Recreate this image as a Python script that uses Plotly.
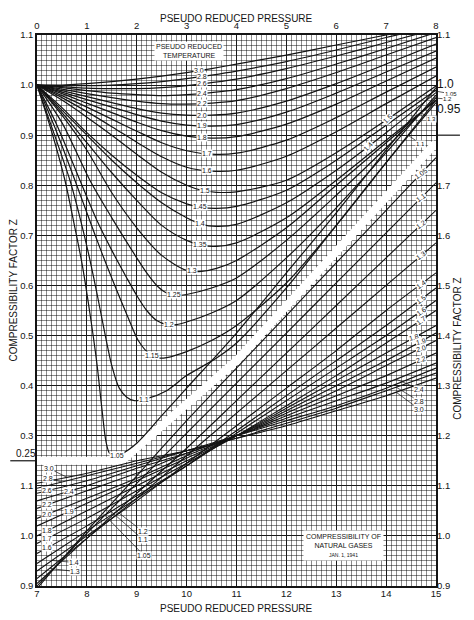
import numpy as np
import plotly.graph_objects as go

# ---- upper chart: pseudo reduced pressure 0-8, Z 0.25-1.1 ----
pr_hi = [0, 0.5, 1, 1.5, 2, 2.5, 3, 3.5, 4, 5, 6, 7, 8]
z_hi = {
    "3.0": [1.0, 1.0, 1.003, 1.007, 1.012, 1.018, 1.025, 1.033, 1.042, 1.06, 1.08, 1.10, 1.12],
    "2.8": [1.0, 0.999, 0.999, 1.0, 1.003, 1.007, 1.013, 1.02, 1.028, 1.047, 1.07, 1.095, 1.118],
    "2.6": [1.0, 0.997, 0.994, 0.993, 0.993, 0.995, 0.999, 1.005, 1.012, 1.033, 1.058, 1.085, 1.112],
    "2.4": [1.0, 0.995, 0.989, 0.984, 0.981, 0.979, 0.981, 0.985, 0.991, 1.013, 1.042, 1.073, 1.105],
    "2.2": [1.0, 0.992, 0.983, 0.975, 0.968, 0.963, 0.962, 0.964, 0.969, 0.993, 1.025, 1.06, 1.095],
    "2.0": [1.0, 0.989, 0.977, 0.965, 0.953, 0.944, 0.94, 0.94, 0.944, 0.968, 1.003, 1.042, 1.082],
    "1.9": [1.0, 0.986, 0.971, 0.956, 0.941, 0.928, 0.92, 0.918, 0.921, 0.946, 0.984, 1.026, 1.068],
    "1.8": [1.0, 0.983, 0.964, 0.945, 0.926, 0.909, 0.898, 0.894, 0.897, 0.922, 0.962, 1.008, 1.054],
    "1.7": [1.0, 0.979, 0.956, 0.932, 0.908, 0.885, 0.869, 0.862, 0.864, 0.89, 0.935, 0.986, 1.036],
    "1.6": [1.0, 0.975, 0.947, 0.917, 0.886, 0.857, 0.836, 0.828, 0.83, 0.858, 0.907, 0.963, 1.018],
}

pr_mid = [0, 0.5, 1, 1.5, 2, 2.5, 3, 3.3, 3.6, 4, 5, 6, 7, 8]
z_mid = {
    "1.5": [1.0, 0.97, 0.936, 0.9, 0.862, 0.826, 0.8, 0.79, 0.786, 0.787, 0.81, 0.865, 0.93, 0.998],
    "1.45": [1.0, 0.955, 0.905, 0.86, 0.82, 0.785, 0.763, 0.756, 0.754, 0.758, 0.79, 0.85, 0.92, 0.99],
    "1.4": [1.0, 0.95, 0.9, 0.85, 0.805, 0.765, 0.735, 0.722, 0.718, 0.722, 0.765, 0.83, 0.905, 0.985],
    "1.35": [1.0, 0.945, 0.885, 0.825, 0.77, 0.72, 0.69, 0.68, 0.678, 0.685, 0.735, 0.81, 0.89, 0.97],
    "1.3": [1.0, 0.94, 0.87, 0.785, 0.715, 0.66, 0.63, 0.628, 0.634, 0.65, 0.715, 0.80, 0.885, 0.97],
}

pr_125 = [0, 0.5, 1.06, 1.5, 2.0, 2.2, 2.4, 2.6, 2.8, 3.0, 3.5, 4, 5, 6, 7, 8]
z_125 = [1.0, 0.925, 0.81, 0.735, 0.655, 0.625, 0.60, 0.585, 0.58, 0.582, 0.595, 0.615, 0.69, 0.78, 0.875, 0.975]

pr_120 = [0, 0.4, 0.86, 1.2, 1.5, 1.8, 2.0, 2.2, 2.4, 2.6, 2.8, 3.0, 3.5, 4, 5, 6, 7, 8]
z_120 = [1.0, 0.92, 0.81, 0.73, 0.67, 0.615, 0.58, 0.55, 0.53, 0.522, 0.522, 0.527, 0.545, 0.57, 0.655, 0.755, 0.865, 0.98]

pr_115 = [0, 0.4, 0.76, 1.0, 1.3, 1.6, 1.83, 2.03, 2.27, 2.45, 2.6, 3.0, 3.5, 4, 5, 6, 7, 8]
z_115 = [1.0, 0.905, 0.81, 0.745, 0.665, 0.59, 0.535, 0.49, 0.462, 0.455, 0.456, 0.468, 0.49, 0.52, 0.605, 0.72, 0.845, 0.97]

pr_110 = [0, 0.3, 0.66, 0.85, 1.03, 1.2, 1.33, 1.5, 1.65, 1.8, 1.95, 2.2, 2.6, 3.0, 3.6, 4, 5, 6, 7, 8]
z_110 = [1.0, 0.915, 0.81, 0.74, 0.665, 0.585, 0.52, 0.44, 0.395, 0.377, 0.37, 0.374, 0.39, 0.42, 0.455, 0.485, 0.595, 0.72, 0.845, 0.965]

pr_105 = [0, 0.3, 0.56, 0.75, 0.9, 1.06, 1.2, 1.3, 1.38, 1.45, 1.55, 1.7, 2.0, 2.5, 3, 4, 5, 6, 7, 8]
z_105 = [1.0, 0.905, 0.81, 0.72, 0.645, 0.545, 0.445, 0.355, 0.29, 0.266, 0.26, 0.264, 0.285, 0.34, 0.395, 0.505, 0.625, 0.745, 0.87, 0.995]

upper_label_pr = {
    "3.0": 3.24, "2.8": 3.3, "2.6": 3.3, "2.4": 3.3, "2.2": 3.3, "2.0": 3.3,
    "1.9": 3.3, "1.8": 3.3, "1.7": 3.4, "1.6": 3.4, "1.5": 3.36, "1.45": 3.26,
    "1.4": 3.26, "1.35": 3.26, "1.3": 3.1, "1.25": 2.74, "1.2": 2.64,
    "1.15": 2.3, "1.1": 2.14, "1.05": 1.6,
}

# white strip separating the two charts (upper coordinates)
band_pr = [0, 1.7, 4.0, 8]
band_z = [0.25, 0.25, 0.45, 0.885]

# ---- lower chart: pseudo reduced pressure 7-15, Z 0.9-1.75 ----
pr_lo = [7, 8, 9, 10, 11, 12, 13, 14, 15]
z_lo = {
    "1.05": [0.895, 1.01, 1.12, 1.23, 1.335, 1.44, 1.545, 1.65, 1.755],
    "1.1": [0.90, 1.005, 1.105, 1.205, 1.305, 1.405, 1.505, 1.605, 1.705],
    "1.2": [0.905, 0.995, 1.085, 1.175, 1.27, 1.365, 1.46, 1.555, 1.65],
    "1.3": [0.915, 0.995, 1.075, 1.16, 1.245, 1.33, 1.415, 1.50, 1.585],
    "1.4": [0.93, 1.0, 1.07, 1.145, 1.22, 1.295, 1.37, 1.45, 1.525],
    "1.5": [0.945, 1.01, 1.075, 1.14, 1.21, 1.28, 1.35, 1.42, 1.495],
    "1.6": [0.965, 1.02, 1.08, 1.14, 1.205, 1.27, 1.335, 1.40, 1.47],
    "1.7": [0.985, 1.035, 1.09, 1.145, 1.20, 1.26, 1.32, 1.385, 1.45],
    "1.8": [1.00, 1.05, 1.10, 1.15, 1.20, 1.255, 1.31, 1.365, 1.42],
    "1.9": [1.02, 1.065, 1.11, 1.155, 1.20, 1.25, 1.30, 1.35, 1.405],
    "2.0": [1.035, 1.075, 1.115, 1.16, 1.20, 1.245, 1.29, 1.34, 1.39],
    "2.2": [1.055, 1.09, 1.125, 1.165, 1.20, 1.24, 1.28, 1.32, 1.365],
    "2.4": [1.07, 1.10, 1.135, 1.165, 1.20, 1.235, 1.27, 1.305, 1.345],
    "2.6": [1.085, 1.11, 1.14, 1.17, 1.20, 1.23, 1.26, 1.295, 1.335],
    "2.8": [1.095, 1.12, 1.145, 1.17, 1.195, 1.225, 1.255, 1.29, 1.325],
    "3.0": [1.105, 1.125, 1.15, 1.17, 1.195, 1.22, 1.25, 1.28, 1.315],
}
lower_right_labels = ["1.05", "1.1", "1.2", "1.3", "1.4", "1.5", "1.6", "1.7", "1.8", "1.9", "2.0", "2.2"]
lower_left_labels = ["2.6", "2.4", "2.2", "2.0", "1.9", "1.8", "1.7", "1.6"]

top_ticks = list(range(0, 9))
bottom_ticks = list(range(7, 16))
left_vals = [0, 0.1, 0.2, 0.3, 0.4, 0.5, 0.6, 0.7, 0.8, 0.9, 1.0, 1.1]
left_text = ["0.9", "1.0", "1.1", "0.3", "0.4", "0.5", "0.6", "0.7", "0.8", "0.9", "1.0", "1.1"]
right_vals = [0.9, 1.0, 1.1, 1.2, 1.3, 1.4, 1.5, 1.6, 1.7, 1.85, 1.9, 2.0]
right_text = ["0.9", "1.0", "1.1", "1.2", "1.3", "1.4", "1.5", "1.6", "1.7",
              "<span style='font-size:12px'>0.95</span>",
              "<span style='font-size:12px'>1.0</span>", "1.1"]

FONT = "Liberation Sans"
ink = "#141414"

fig = go.Figure()

# upper chart lives on the main x/y axes, lower chart on the overlaid x2/y2
fig.add_trace(go.Scatter(x=band_pr, y=band_z, mode="lines",
                         line=dict(color="white", width=8), hoverinfo="skip"))

upper = [(pr_hi, z) for z in z_hi.values()]
upper += [(pr_mid, z) for z in z_mid.values()]
upper += [(pr_125, z_125), (pr_120, z_120), (pr_115, z_115), (pr_110, z_110), (pr_105, z_105)]
upper_names = list(z_hi) + list(z_mid) + ["1.25", "1.2", "1.15", "1.1", "1.05"]
upper_curves = dict(zip(upper_names, upper))

for name, (px, pz) in upper_curves.items():
    fig.add_trace(go.Scatter(x=px, y=pz, mode="lines",
                             line=dict(color=ink, width=1.2, shape="spline", smoothing=0.8),
                             name=name, hoverinfo="skip"))

for name, pz in z_lo.items():
    fig.add_trace(go.Scatter(x=pr_lo, y=pz, xaxis="x2", yaxis="y2", mode="lines",
                             line=dict(color=ink, width=1.1, shape="spline", smoothing=0.6),
                             name="lo " + name, hoverinfo="skip"))

ann = []
lab = dict(size=7, family=FONT, color=ink)


def on_curve(text, x, y, xref, yref, angle=0):
    ann.append(dict(text=text, x=x, y=y, xref=xref, yref=yref, showarrow=False,
                    font=lab, bgcolor="white", borderpad=0, textangle=angle))


def leader(text, x, y, xref, yref, ax, ay, size=7):
    ann.append(dict(text=text, x=x, y=y, xref=xref, yref=yref, showarrow=True,
                    arrowhead=0, arrowwidth=0.7, arrowcolor=ink, ax=ax, ay=ay,
                    font=dict(lab, size=size), bgcolor="white", borderpad=0, standoff=0))


for name, p in upper_label_pr.items():
    px, pz = upper_curves[name]
    on_curve(name, p, float(np.interp(p, px, pz)), "x", "y")

on_curve("1.5", 7.04, float(np.interp(7.04, pr_mid, z_mid["1.5"])), "x", "y", -45)
on_curve("1.4", 6.64, float(np.interp(6.64, pr_mid, z_mid["1.4"])), "x", "y", -45)

leader("1.05", 7.95, float(np.interp(7.95, pr_105, z_105)), "x", "y", 17, 3, 6)
leader("1.2", 7.95, float(np.interp(7.95, pr_120, z_120)), "x", "y", 14, 1, 6)
leader("1.3", 7.7, float(np.interp(7.7, pr_mid, z_mid["1.3"])), "x", "y", 10, 6, 6)
leader("1.1", 7.45, float(np.interp(7.45, pr_110, z_110)), "x", "y", 12, 8, 6)

for name in lower_right_labels:
    ang = -35 if float(name) < 1.75 else -15
    p = 14.55 if name == "1.8" else 14.7
    on_curve(name, p, float(np.interp(p, pr_lo, z_lo[name])), "x2", "y2", ang)

for name, ay in [("2.4", 10), ("2.8", 14), ("3.0", 17)]:
    leader(name, 14.2, float(np.interp(14.2, pr_lo, z_lo[name])), "x2", "y2", 23, ay)

for name in lower_left_labels:
    p = 7.65 if name in ("2.4", "1.9") else 7.2
    on_curve(name, p, float(np.interp(p, pr_lo, z_lo[name])), "x2", "y2")

leader("3.0", 7.6, float(np.interp(7.6, pr_lo, z_lo["3.0"])), "x2", "y2", -18, -9)
leader("2.8", 7.5, float(np.interp(7.5, pr_lo, z_lo["2.8"])), "x2", "y2", -14, -4)
leader("1.4", 7.3, float(np.interp(7.3, pr_lo, z_lo["1.4"])), "x2", "y2", 22, 2)
leader("1.3", 7.25, float(np.interp(7.25, pr_lo, z_lo["1.3"])), "x2", "y2", 26, 3)
leader("1.2", 8.6, float(np.interp(8.6, pr_lo, z_lo["1.2"])), "x2", "y2", 26, 20)
leader("1.1", 8.46, float(np.interp(8.46, pr_lo, z_lo["1.1"])), "x2", "y2", 33, 29)
leader("1.05", 8.32, float(np.interp(8.32, pr_lo, z_lo["1.05"])), "x2", "y2", 41, 42)

ann.append(dict(text="PSEUDO REDUCED<br>TEMPERATURE", x=3.05, y=1.069, xref="x", yref="y",
                showarrow=False, font=dict(size=7, family=FONT, color=ink),
                bgcolor="white", borderpad=1))
ann.append(dict(text="COMPRESSIBILITY OF<br>NATURAL GASES<br><span style='font-size:5px'>JAN. 1, 1941</span>",
                x=13.14, y=0.98, xref="x2", yref="y2", showarrow=False,
                font=dict(size=7, family=FONT, color=ink), bgcolor="white", borderpad=2))

# "0.25" sits a little above its extension line
ann.append(dict(text="0.25", x=-0.028, y=0.25, xref="paper", yref="y", xanchor="center",
                yanchor="bottom", showarrow=False,
                font=dict(size=10, family=FONT, color=ink)))

title_font = dict(size=10, family=FONT, color=ink)
# top title hangs from the very top of the figure
ann.append(dict(text="PSEUDO REDUCED PRESSURE", x=0.499, y=1.0433, xref="paper", yref="paper",
                xanchor="center", yanchor="top", showarrow=False, font=title_font))
for txt, x, y, ang in [("PSEUDO REDUCED PRESSURE", 0.499, -0.0415, 0),
                       ("COMPRESSIBILITY FACTOR Z", -0.058, 0.536, -90),
                       ("COMPRESSIBILITY FACTOR Z", 1.052, 0.43, -90)]:
    ann.append(dict(text=txt, x=x, y=y, xref="paper", yref="paper", xanchor="center",
                    yanchor="middle", showarrow=False, font=title_font, textangle=ang))

grid_major = dict(showgrid=True, gridcolor="#1a1a1a", gridwidth=1.4)
minor_grid = dict(showgrid=True, gridcolor="rgba(0,0,0,0.45)", gridwidth=0.6)
tick_font = dict(size=9.5, family=FONT, color=ink)

# the page body keeps its default 8px margin, so the figure is 8px smaller
fig.update_layout(
    width=466, height=612,
    margin=dict(l=27, r=38, t=24, b=34),
    paper_bgcolor="white", plot_bgcolor="white",
    showlegend=False,
    annotations=ann,
    xaxis=dict(range=[0, 8], side="top", tickvals=top_ticks, ticks="", zeroline=False,
               showline=True, linecolor=ink, linewidth=1.5, mirror=True,
               tickfont=tick_font, ticklabelstandoff=0, **grid_major,
               minor=dict(tickmode="linear", tick0=0, dtick=0.1, **minor_grid)),
    xaxis2=dict(range=[7, 15], overlaying="x", side="bottom", anchor="y", tickvals=bottom_ticks,
                ticks="", showgrid=False, zeroline=False, tickfont=tick_font),
    yaxis=dict(range=[0, 1.1], tickvals=left_vals, ticktext=left_text, ticks="",
               zeroline=False, showline=True, linecolor=ink, linewidth=1.5, mirror=True,
               tickfont=tick_font, **grid_major,
               minor=dict(tickmode="linear", tick0=0, dtick=0.01, **minor_grid)),
    yaxis2=dict(range=[0.9, 2.0], overlaying="y", side="right", anchor="x",
                tickvals=right_vals, ticktext=right_text, ticks="", showgrid=False,
                zeroline=False, tickfont=tick_font),
    shapes=[
        dict(type="line", xref="paper", yref="y", x0=-0.067, x1=0, y0=0.25, y1=0.25,
             line=dict(color=ink, width=1.2)),
        dict(type="line", xref="paper", yref="y", x0=1, x1=1.06, y0=0.9, y1=0.9,
             line=dict(color=ink, width=1.2)),
    ],
)

fig.write_html("out.html")
